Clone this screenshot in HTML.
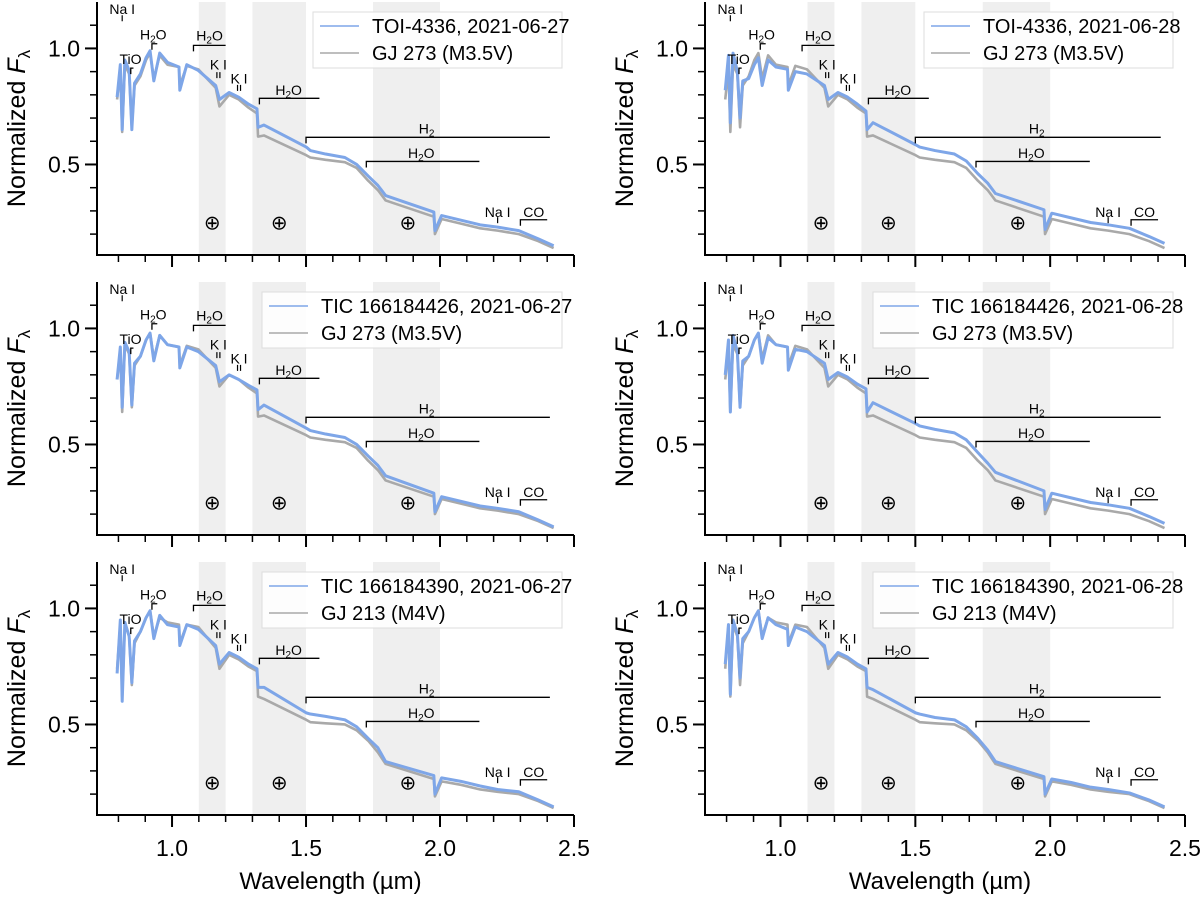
<!DOCTYPE html>
<html><head><meta charset="utf-8"><style>
body{margin:0;background:#fff;}
svg{display:block;font-family:"Liberation Sans",Arial,sans-serif;}
</style></head><body>
<svg id="fig" width="1200" height="899" viewBox="0 0 1200 899"></svg>
<script>
// ---- data ----
const wavelengths=[0.795,0.807,0.814,0.824,0.84,0.85,0.86,0.882,0.903,0.918,0.932,0.954,0.983,1.026,1.029,1.055,1.098,1.163,1.177,1.213,1.249,1.285,1.317,1.321,1.343,1.501,1.516,1.573,1.645,1.689,1.732,1.768,1.797,1.977,1.981,2.006,2.078,2.15,2.215,2.294,2.366,2.424];
const toi27=[0.79,0.93,0.65,0.95,0.905,0.65,0.85,0.89,0.96,0.99,0.86,0.98,0.94,0.92,0.82,0.93,0.905,0.84,0.78,0.81,0.79,0.76,0.74,0.66,0.67,0.575,0.56,0.545,0.53,0.50,0.45,0.41,0.366,0.295,0.215,0.28,0.26,0.24,0.23,0.215,0.18,0.15];
const toi28=[0.82,0.97,0.68,0.98,0.9,0.7,0.86,0.87,0.93,0.96,0.84,0.95,0.92,0.91,0.82,0.9,0.89,0.84,0.78,0.81,0.79,0.76,0.73,0.65,0.68,0.585,0.575,0.56,0.545,0.515,0.46,0.42,0.375,0.305,0.22,0.29,0.27,0.25,0.24,0.225,0.19,0.16];
const tic426_27=[0.78,0.92,0.66,0.94,0.9,0.67,0.85,0.88,0.95,0.98,0.86,0.97,0.93,0.92,0.83,0.92,0.9,0.84,0.77,0.8,0.78,0.755,0.735,0.65,0.67,0.57,0.56,0.545,0.53,0.5,0.45,0.41,0.365,0.29,0.21,0.275,0.255,0.235,0.225,0.21,0.175,0.145];
const tic426_28=[0.8,0.95,0.64,0.97,0.9,0.66,0.86,0.88,0.95,0.98,0.85,0.96,0.93,0.92,0.82,0.91,0.9,0.85,0.78,0.81,0.79,0.76,0.74,0.64,0.68,0.59,0.58,0.565,0.55,0.52,0.465,0.42,0.38,0.3,0.22,0.29,0.27,0.25,0.24,0.225,0.19,0.16];
const tic390_27=[0.72,0.95,0.6,0.94,0.88,0.68,0.86,0.9,0.96,0.99,0.87,0.97,0.93,0.92,0.84,0.93,0.91,0.84,0.76,0.81,0.79,0.76,0.74,0.66,0.66,0.55,0.545,0.535,0.52,0.49,0.44,0.4,0.34,0.28,0.2,0.27,0.255,0.235,0.22,0.21,0.175,0.145];
const tic390_28=[0.76,0.93,0.63,0.95,0.89,0.7,0.87,0.9,0.96,0.99,0.87,0.96,0.93,0.91,0.84,0.92,0.9,0.84,0.76,0.81,0.79,0.76,0.74,0.66,0.65,0.55,0.545,0.53,0.52,0.49,0.44,0.39,0.34,0.275,0.2,0.265,0.25,0.23,0.22,0.205,0.175,0.145];
const gj273=[0.78,0.91,0.64,0.93,0.89,0.66,0.84,0.88,0.95,0.98,0.87,0.97,0.93,0.92,0.84,0.925,0.91,0.83,0.75,0.80,0.78,0.745,0.72,0.62,0.625,0.54,0.53,0.52,0.51,0.485,0.43,0.39,0.345,0.275,0.2,0.265,0.245,0.225,0.215,0.2,0.17,0.14];
const gj213=[0.74,0.93,0.62,0.93,0.88,0.67,0.85,0.9,0.96,0.99,0.88,0.96,0.94,0.93,0.85,0.93,0.92,0.83,0.74,0.8,0.78,0.75,0.73,0.62,0.61,0.52,0.51,0.505,0.5,0.475,0.43,0.38,0.33,0.265,0.19,0.255,0.24,0.22,0.21,0.2,0.17,0.14];
const targetLabels=["TOI-4336, 2021-06-27","TOI-4336, 2021-06-28","TIC 166184426, 2021-06-27","TIC 166184426, 2021-06-28","TIC 166184390, 2021-06-27","TIC 166184390, 2021-06-28"];
const compLabels=["GJ 273 (M3.5V)","GJ 273 (M3.5V)","GJ 273 (M3.5V)","GJ 273 (M3.5V)","GJ 213 (M4V)","GJ 213 (M4V)"];
const targetSeries=[toi27,toi28,tic426_27,tic426_28,tic390_27,tic390_28];
const compSeries=[gj273,gj273,gj273,gj273,gj213,gj213];
const telluricBands=[[1.1,1.2],[1.3,1.5],[1.75,2.0]];
const xMajor=[1.0,1.5,2.0,2.5];
const xMinor=[0.8,0.9,1.1,1.2,1.3,1.4,1.6,1.7,1.8,1.9,2.1,2.2,2.3,2.4];
const yMajor=[0.5,1.0];
const yMinor=[0.2,0.3,0.4,0.6,0.7,0.8,0.9,1.1];

const NS="http://www.w3.org/2000/svg";
const svg=document.getElementById('fig');
function mk(tag,attrs,parent){const e=document.createElementNS(NS,tag);for(const k in attrs)e.setAttribute(k,attrs[k]);(parent||svg).appendChild(e);return e;}

const cols=[[97,574],[705,1185]];
const rows=[[2,255],[282,535],[562,815]];
const XMIN=0.72,XMAX=2.5,YMIN=0.11,YMAX=1.2;

for(let p=0;p<6;p++){
  const r=Math.floor(p/2),c=p%2;
  const [x0,x1]=cols[c],[y0,y1]=rows[r];
  const X=v=>x0+(v-XMIN)/(XMAX-XMIN)*(x1-x0);
  const Y=v=>y1-(v-YMIN)/(YMAX-YMIN)*(y1-y0);
  const g=mk('g',{});
  
  
  telluricBands.forEach(b=>{
    const rc=mk('rect',{x:X(b[0]),y:y0,width:X(b[1])-X(b[0]),height:y1-y0,fill:'#efefef'},g);
    
    
    const t=mk('text',{x:X((b[0]+b[1])/2+(b[0]==1.75?0.005:0)),y:Y(0.25)+7,'font-size':20,'text-anchor':'middle',fill:'#000'},g);
    t.textContent='⊕';
    
    
  });
  const ptsC=wavelengths.map((w,i)=>X(w)+','+Y(compSeries[p][i])).join(' ');
  const pc=mk('polyline',{points:ptsC,fill:'none',stroke:'#a9a9a9','stroke-width':2.6,'stroke-linejoin':'round'},g);
  
  
  const ptsT=wavelengths.map((w,i)=>X(w)+','+Y(targetSeries[p][i])).join(' ');
  const pt=mk('polyline',{points:ptsT,fill:'none',stroke:'#7ea6e8','stroke-width':3,'stroke-linejoin':'round'},g);
  
  
  function lbl(txt,w,f,sub){
    const t=mk('text',{x:X(w),y:Y(f)+5,'font-size':14,'text-anchor':'middle',fill:'#000'},g);
    if(sub){t.innerHTML='H<tspan font-size="10" dy="3">2</tspan><tspan dy="-3">'+(sub==='O'?'O':'')+'</tspan>';}
    else t.textContent=txt;
    
    
  }
  function br(a,b,f){
    const l=mk('path',{d:'M'+X(a)+' '+(Y(f)+6)+'V'+Y(f)+'H'+X(b),fill:'none',stroke:'#000','stroke-width':1.3},g);
    
    
  }
  function tick(w,f,dbl){
    const d=dbl?'M'+(X(w)-1.5)+' '+(Y(f)-3)+'v6M'+(X(w)+1.5)+' '+(Y(f)-3)+'v6':'M'+X(w)+' '+(Y(f)-3)+'v6';
    const l=mk('path',{d:d,stroke:'#000','stroke-width':1.2},g);
    
    
  }
  lbl('Na I',0.814,1.17);tick(0.814,1.13);
  lbl('TiO',0.845,0.955);br(0.846,0.856,0.915);
  lbl('',0.93,1.06,'O');br(0.925,0.945,1.02);
  lbl('',1.14,1.055,'O');br(1.08,1.2,1.013);
  lbl('K I',1.173,0.93);tick(1.173,0.885,true);
  lbl('K I',1.25,0.87);tick(1.25,0.83,true);
  lbl('',1.435,0.82,'O');br(1.326,1.55,0.785);
  lbl('',1.95,0.655,'2');br(1.5,2.41,0.617);
  lbl('',1.93,0.55,'O');br(1.725,2.147,0.513);
  lbl('Na I',2.215,0.295);tick(2.215,0.26);
  lbl('CO',2.35,0.295);br(2.3,2.4,0.262);
  const ax=mk('path',{d:'M'+x0+' '+y0+'V'+y1+'H'+x1,fill:'none',stroke:'#000','stroke-width':2},g);
  
  
  xMajor.forEach(v=>{mk('line',{x1:X(v),x2:X(v),y1:y1,y2:y1+12,stroke:'#000','stroke-width':2},g);
    if(r===2){const t=mk('text',{x:X(v),y:y1+41,'font-size':23,'text-anchor':'middle'},g);t.textContent=v.toFixed(1);
      }});
  xMinor.forEach(v=>mk('line',{x1:X(v),x2:X(v),y1:y1,y2:y1+7,stroke:'#000','stroke-width':1.5},g));
  yMajor.forEach(v=>{mk('line',{x1:x0-12,x2:x0,y1:Y(v),y2:Y(v),stroke:'#000','stroke-width':2},g);
    const t=mk('text',{x:x0-17,y:Y(v)+8,'font-size':23,'text-anchor':'end'},g);t.textContent=v.toFixed(1);
    });
  yMinor.forEach(v=>mk('line',{x1:x0-7,x2:x0,y1:Y(v),y2:Y(v),stroke:'#000','stroke-width':1.5},g));
  const yl=mk('text',{x:0,y:0,'font-size':25,'text-anchor':'middle',transform:'translate('+(x0-72)+','+((y0+y1)/2)+') rotate(-90)'},g);
  yl.innerHTML='Normalized <tspan font-style="italic">F</tspan><tspan font-size="17" dy="5">λ</tspan>';
  
  
  if(r===2){const xl=mk('text',{x:(x0+x1)/2-5,y:889,'font-size':24,'text-anchor':'middle'},g);xl.textContent='Wavelength (µm)';
    }
  const w=(p<2)?249:300;
  const bx=x1-12-w, by=y0+10;
  const lg=mk('g',{},g);
  
  
  mk('rect',{x:bx,y:by,width:w,height:56,fill:'#fff','fill-opacity':0.85,stroke:'#ddd','stroke-width':1},lg);
  mk('line',{x1:bx+7,x2:bx+46,y1:by+14,y2:by+14,stroke:'#7ea6e8','stroke-width':1.5},lg);
  mk('line',{x1:bx+7,x2:bx+46,y1:by+41,y2:by+41,stroke:'#a9a9a9','stroke-width':1.5},lg);
  const t1=mk('text',{x:bx+59,y:by+21,'font-size':20},lg);t1.textContent=targetLabels[p];
  
  const t2=mk('text',{x:bx+59,y:by+48,'font-size':20},lg);t2.textContent=compLabels[p];
  
}
</script>
</body></html>
